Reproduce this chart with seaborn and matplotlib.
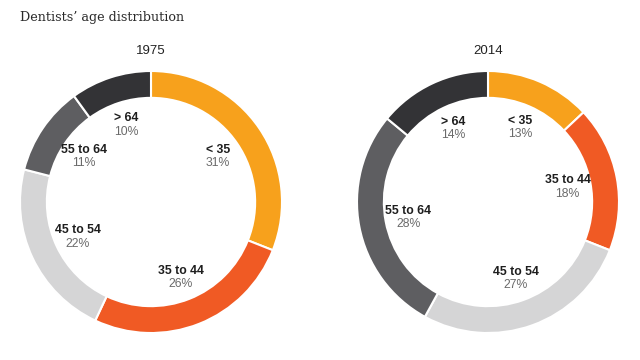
import numpy as np
import matplotlib
matplotlib.use("Agg")
import matplotlib.pyplot as plt
import seaborn as sns

# Data
age_groups = ["< 35", "35 to 44", "45 to 54", "55 to 64", "> 64"]
years = ["1975", "2014"]
share_1975 = [31, 26, 22, 11, 10]
share_2014 = [13, 18, 27, 28, 14]

colors = ["#F7A11C", "#F05A24", "#D5D5D6", "#5E5E61", "#333336"]

sns.set_theme(style="white")
plt.rcParams["font.family"] = ["Liberation Sans", "DejaVu Sans"]

fig = plt.figure(figsize=(6.4, 3.6), dpi=100)
fig.patch.set_facecolor("white")

fig.text(20 / 640, 1 - 18 / 360, "Dentists\u2019 age distribution",
         family="DejaVu Serif", fontsize=9.2, color="#2a2a2a",
         ha="left", va="center")

R_PX = 131
centers = [(151, 202), (488, 202)]
ring = 0.205
label_r = 0.62


def draw_donut(ax, values, title):
    wedges, _ = ax.pie(values, colors=colors, startangle=90, counterclock=False,
                       radius=1.0,
                       wedgeprops=dict(width=ring, edgecolor="white", linewidth=1.5))
    ax.set_xlim(-1, 1)
    ax.set_ylim(-1, 1)
    ax.set_aspect("equal")
    ax.axis("off")
    for w, name, v in zip(wedges, age_groups, values):
        ang = np.deg2rad((w.theta1 + w.theta2) / 2)
        x, y = label_r * np.cos(ang), label_r * np.sin(ang)
        ax.text(x, y + 0.05, name, ha="center", va="center", fontsize=8.8,
                fontweight="bold", color="#1e1e1e")
        ax.text(x, y - 0.053, f"{v}%", ha="center", va="center", fontsize=8.8,
                color="#6a6a6a")
    ax.text(0, 1.0 + 20 / R_PX, title, ha="center", va="center",
            fontsize=9.5, color="#222222", clip_on=False)


for (cx, cy), vals, yr in zip(centers, [share_1975, share_2014], years):
    ax = fig.add_axes([(cx - R_PX) / 640, (360 - cy - R_PX) / 360,
                       2 * R_PX / 640, 2 * R_PX / 360])
    draw_donut(ax, vals, yr)

fig.savefig("out.png", dpi=100)
